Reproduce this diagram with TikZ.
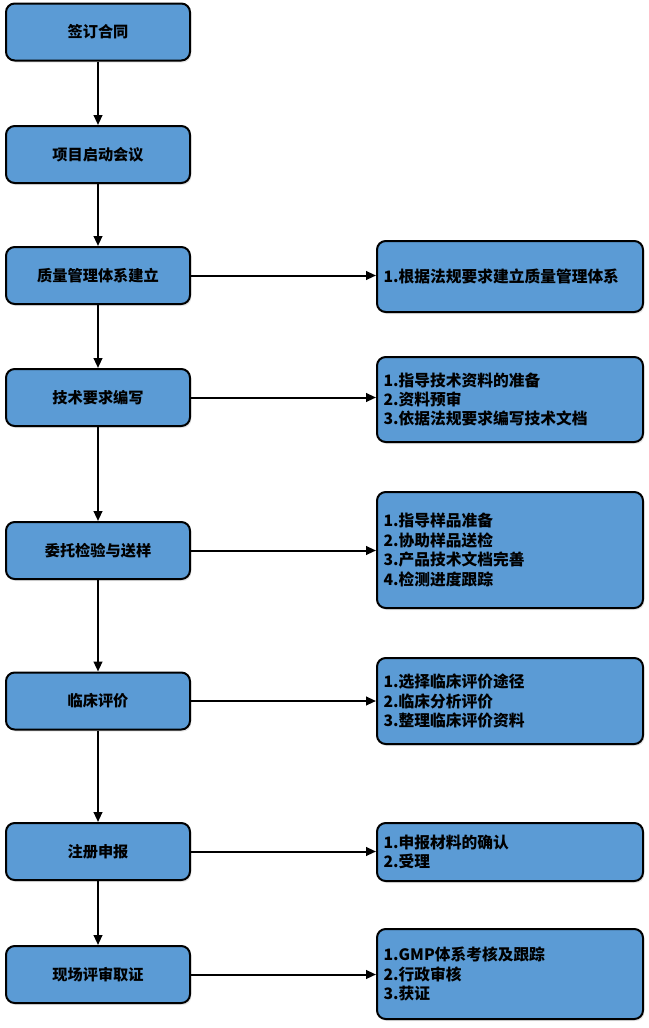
\documentclass[tikz,border=0pt]{standalone}
\usepackage{fontspec}
\setmainfont{Noto Sans CJK SC}
\usetikzlibrary{arrows.meta,shadows}
\definecolor{boxblue}{HTML}{5B9BD5}
\begin{document}
\begin{tikzpicture}[x=0.75pt,y=-0.75pt,
  box/.style={draw=black, line width=1.5pt, fill=boxblue, rounded corners=6.5pt,
    drop shadow={shadow xshift=1pt, shadow yshift=-1.5pt, opacity=0.2}},
  lbox/.style={box, minimum width=138pt, minimum height=42.75pt, align=center,
    font=\fontsize{11.4}{14.6}\selectfont\bfseries},
  rbox/.style={box, text width=189.6pt, inner xsep=4.95pt, align=left,
    font=\fontsize{11.8}{14.6}\selectfont\bfseries},
  arr/.style={line width=1.5pt, -{Triangle[length=7.5pt,width=6.5pt]}}]
\useasboundingbox (0,0) rectangle (649,1028);

\node[lbox] (l1) at (98,32) {签订合同};
\node[lbox] (l2) at (98,154.5) {项目启动会议};
\node[lbox] (l3) at (98,275.5) {质量管理体系建立};
\node[lbox] (l4) at (98,397.5) {技术要求编写};
\node[lbox] (l5) at (98,550.5) {委托检验与送样};
\node[lbox] (l6) at (98,701) {临床评价};
\node[lbox] (l7) at (98,851.5) {注册申报};
\node[lbox] (l8) at (98,974.5) {现场评审取证};

\node[rbox, minimum height=53.25pt] (r1) at (510,276.5) {1.根据法规要求建立质量管理体系};
\node[rbox, minimum height=63.75pt] (r2) at (510,399.5) {1.指导技术资料的准备\\2.资料预审\\3.依据法规要求编写技术文档};
\node[rbox, minimum height=87pt] (r3) at (510,550) {1.指导样品准备\\2.协助样品送检\\3.产品技术文档完善\\4.检测进度跟踪};
\node[rbox, minimum height=64.5pt] (r4) at (510,701) {1.选择临床评价途径\\2.临床分析评价\\3.整理临床评价资料};
\node[rbox, minimum height=43.5pt] (r5) at (510,852) {1.申报材料的确认\\2.受理};
\node[rbox, minimum height=67.5pt] (r6) at (510,974) {1.GMP体系考核及跟踪\\2.行政审核\\3.获证};

\foreach \a/\b in {l1/l2,l2/l3,l3/l4,l4/l5,l5/l6,l6/l7,l7/l8}
  \draw[arr] (\a) -- (\b);
\draw[arr] (l3) -- (l3 -| r1.west);
\draw[arr] (l4) -- (l4 -| r2.west);
\draw[arr] (l5) -- (l5 -| r3.west);
\draw[arr] (l6) -- (l6 -| r4.west);
\draw[arr] (l7) -- (l7 -| r5.west);
\draw[arr] (l8) -- (l8 -| r6.west);
\end{tikzpicture}
\end{document}
